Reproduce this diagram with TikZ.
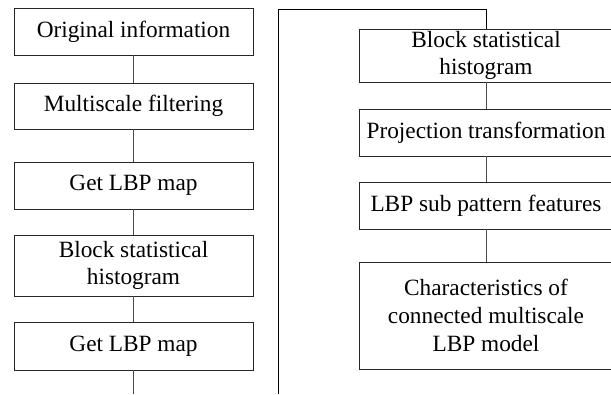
\documentclass[tikz,border=0pt]{standalone}
\usepackage{fontspec}
\setmainfont{Liberation Serif}
\begin{document}
\begin{tikzpicture}[x=1pt,y=-1pt,
  box/.style={draw=black!85,line width=0.8pt,inner sep=0pt,align=center,
    font=\fontsize{23.3}{27.7}\selectfont},
  lbox/.style={box,minimum width=239pt},
  rbox/.style={box,minimum width=254pt},
  conn/.style={draw=black!70,line width=0.8pt},
  frame/.style={draw=black,line width=0.9pt}]
\clip (0,0) rectangle (611,394);
\useasboundingbox (0,0) rectangle (611,394);
% left column
\node[lbox,minimum height=47pt] (L1) at (133.5,31.5) {Original information};
\node[lbox,minimum height=46pt] (L2) at (133.5,106) {Multiscale filtering};
\node[lbox,minimum height=47pt] (L3) at (133.5,185.5) {Get LBP map};
\node[lbox,minimum height=61pt] (L4) at (133.5,265.5) {Block statistical\\histogram};
\node[lbox,minimum height=48pt] (L5) at (133.5,346) {Get LBP map};
\coordinate (Lend) at (133.5,394);
\draw[conn] (L1.south) -- (L2.north);
\draw[conn] (L2.south) -- (L3.north);
\draw[conn] (L3.south) -- (L4.north);
\draw[conn] (L4.south) -- (L5.north);
\draw[conn] (L5.south) -- (Lend);
% right column
\node[rbox,minimum height=53pt] (R1) at (486,55.5) {Block statistical\\histogram};
\node[rbox,minimum height=47pt] (R2) at (486,132.5) {Projection transformation};
\node[rbox,minimum height=47pt] (R3) at (486,205.5) {LBP sub pattern features};
\node[rbox,minimum height=107pt] (R4) at (486,315.5) {Characteristics of\\connected multiscale\\LBP model};
\coordinate (Rbot) at (278,394);
\coordinate (Rtop) at (278,9);
\draw[frame] (Rbot) -- (Rtop) -| (R1.north);
\draw[conn] (R1.south) -- (R2.north);
\draw[conn] (R2.south) -- (R3.north);
\draw[conn] (R3.south) -- (R4.north);
\end{tikzpicture}
\end{document}
